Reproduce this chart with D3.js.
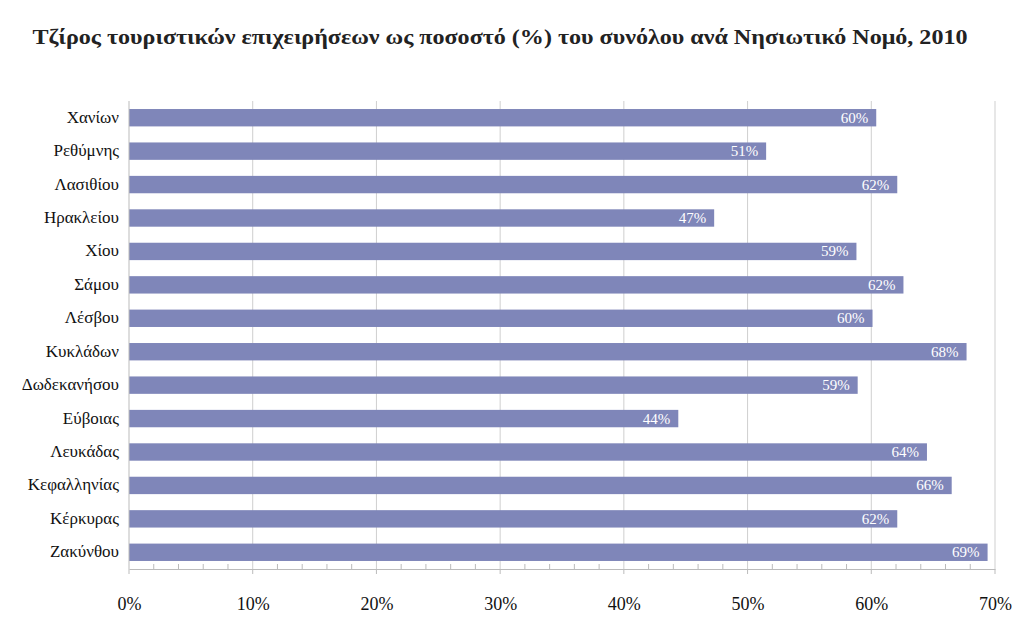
<!DOCTYPE html><html><head><meta charset="utf-8"><script src="https://cdn.jsdelivr.net/npm/d3@7"></script>
<style>body{margin:0;background:#fff}text{font-family:"Liberation Serif","DejaVu Serif",serif}</style></head><body>
<svg id="c" width="1023" height="621"></svg>
<script>
const categories=["Χανίων","Ρεθύμνης","Λασιθίου","Ηρακλείου","Χίου","Σάμου","Λέσβου","Κυκλάδων","Δωδεκανήσου","Εύβοιας","Λευκάδας","Κεφαλληνίας","Κέρκυρας","Ζακύνθου"];
const values=[60.4,51.5,62.1,47.3,58.8,62.6,60.1,67.7,58.9,44.4,64.5,66.5,62.1,69.4];
const labels=["60%","51%","62%","47%","59%","62%","60%","68%","59%","44%","64%","66%","62%","69%"];
const ticks=[0,10,20,30,40,50,60,70];
const svg=d3.select("#c");
const L=129,R=995,T=101,B=569;
const x=d3.scaleLinear().domain([0,70]).range([L,R]);
const y=d3.scaleBand().domain(categories).range([T,B]).paddingInner(0.48).paddingOuter(0.24);
svg.append("text").attr("x",500).attr("y",44).attr("text-anchor","middle").attr("font-size",21).attr("font-weight","bold").attr("fill","#222").attr("textLength",935).attr("lengthAdjust","spacingAndGlyphs").text("Τζίρος τουριστικών επιχειρήσεων  ως ποσοστό (%) του συνόλου ανά Νησιωτικό Νομό, 2010");
svg.selectAll(".g").data(ticks.slice(1)).join("line").attr("x1",d=>x(d)).attr("x2",d=>x(d)).attr("y1",T).attr("y2",B).attr("stroke","#cfcfcf");
svg.selectAll(".b").data(values).join("rect").attr("x",L).attr("y",(d,i)=>y(categories[i])).attr("width",d=>x(d)-L).attr("height",y.bandwidth()).attr("fill","#7f86b9");
svg.selectAll(".v").data(values).join("text").attr("x",d=>x(d)-8).attr("y",(d,i)=>y(categories[i])+y.bandwidth()/2+5).attr("text-anchor","end").attr("fill","#fff").attr("font-size",15).text((d,i)=>labels[i]);
svg.selectAll(".c").data(categories).join("text").attr("x",L-10).attr("y",d=>y(d)+y.bandwidth()/2+5).attr("text-anchor","end").attr("font-size",17).attr("fill","#111").text(d=>d);
svg.append("line").attr("x1",L).attr("x2",L).attr("y1",T).attr("y2",B).attr("stroke","#bbb");
const ax=svg.append("g").attr("transform",`translate(0,${B})`).call(d3.axisBottom(x).tickValues(ticks).tickSize(0).tickFormat(d=>d+"%").tickPadding(28));
ax.select(".domain").attr("stroke","#bbb");
ax.selectAll("text").attr("font-size",18).attr("fill","#111").attr("font-family","Liberation Serif, serif");
svg.selectAll(".m").data(d3.range(0,71,2)).join("line").attr("x1",d=>x(d)).attr("x2",d=>x(d)).attr("y1",B).attr("y2",d=>d%10===0?B+5:B-5).attr("stroke","#bbb");
</script></body></html>
